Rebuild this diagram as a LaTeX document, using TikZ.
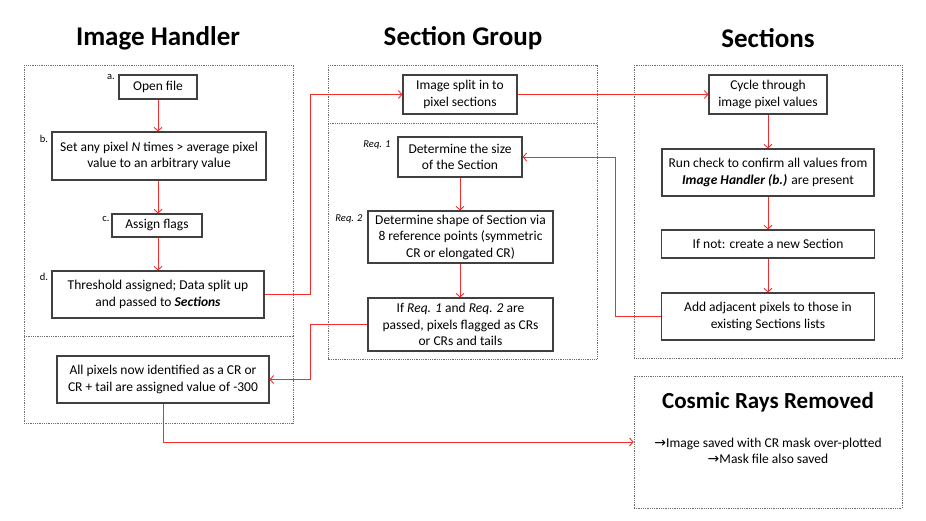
\documentclass[tikz,border=0pt]{standalone}
\usepackage{fontspec}
\setmainfont{Carlito}
\newfontfamily\dejavu{DejaVu Sans}
\usetikzlibrary{arrows.meta}
\definecolor{cline}{RGB}{245,45,45}
\definecolor{cbox}{RGB}{64,64,64}
\definecolor{cdot}{RGB}{110,110,110}
\tikzset{
  pbox/.style={draw=cbox, line width=1.1pt, fill=white, align=center, inner sep=1pt,
    font=\fontsize{13.5}{16.5}\selectfont},
  grp/.style={draw=cdot, line width=0.8pt, densely dotted},
  ttl/.style={font=\fontsize{27}{30}\selectfont\bfseries},
  lab/.style={font=\fontsize{10.5}{12}\selectfont, anchor=base},
  conn/.style={draw=cline, line width=0.9pt},
  arr/.style={conn, -{Straight Barb[length=3.5pt,width=8pt]}},
}
\newcommand{\rarr}{{\dejavu\fontsize{14}{14}\selectfont →}}
\begin{document}
\begin{tikzpicture}[x=1pt,y=-1pt]
\useasboundingbox (0,0) rectangle (926,521);
% titles
\node[ttl] (t1) at (158,38) {Image Handler};
\node[ttl] (t2) at (463,38) {Section Group};
\node[ttl] (t3) at (768,38) {Sections};
% group frames
\draw[grp] (24,65) rectangle (293,423);
\draw[grp] (24,336) -- (293,336);
\draw[grp] (328,65) rectangle (597,359);
\draw[grp] (328,123) -- (597,123);
\draw[grp] (634,65) rectangle (902,358);
\node[grp, minimum width=268pt, minimum height=132pt] (cosmic) at (768,442) {};
% Image handler
\node[pbox, minimum width=78pt, minimum height=24pt] (open) at (158,87) {Open file};
\node[pbox, minimum width=214pt, minimum height=48pt] (bset) at (159,156) {Set any pixel \emph{N} times > average pixel\\value to an arbitrary value};
\node[pbox, minimum width=90pt, minimum height=23pt] (flags) at (157,225.5) {Assign flags};
\node[pbox, minimum width=212pt, minimum height=47pt] (thresh) at (158,294.5) {Threshold assigned; Data split up\\and passed to \textbf{\emph{Sections}}};
\node[pbox, minimum width=212pt, minimum height=47pt] (allpix) at (163,379.5) {All pixels now identified as a CR or\\CR + tail are assigned value of -300};
\node[lab] (la) at (111,80) {a.};
\node[lab] (lb) at (44,143) {b.};
\node[lab] (lc) at (106,222) {c.};
\node[lab] (ld) at (44,281) {d.};
% Section group
\node[pbox, minimum width=114pt, minimum height=39pt] (split) at (460,94.5) {Image split in to\\pixel sections};
\node[pbox, minimum width=124pt, minimum height=40pt] (req1) at (460,157) {Determine the size\\of the Section};
\node[pbox, minimum width=185pt, minimum height=52pt] (req2) at (460.5,237) {Determine shape of Section via\\8 reference points (symmetric\\CR or elongated CR)};
\node[pbox, minimum width=185pt, minimum height=53pt] (ifreq) at (460.5,324.5) {If \emph{Req. 1} and \emph{Req. 2} are\\passed, pixels flagged as CRs\\or CRs and tails};
\node[lab, font=\fontsize{10.5}{12}\selectfont\itshape] (lr1) at (377,148) {Req. 1};
\node[lab, font=\fontsize{10.5}{12}\selectfont\itshape] (lr2) at (349,222) {Req. 2};
% Sections
\node[pbox, minimum width=118pt, minimum height=39pt] (cycle) at (768,94.5) {Cycle through\\image pixel values};
\node[pbox, minimum width=212pt, minimum height=47pt] (check) at (768,172.5) {Run check to confirm all values from\\\textbf{\emph{Image Handler (b.)}} are present};
\node[pbox, minimum width=213pt, minimum height=28pt] (ifnot) at (768,244) {If not: create a new Section};
\node[pbox, minimum width=213pt, minimum height=47pt] (adj) at (768,316.5) {Add adjacent pixels to those in\\existing Sections lists};
% Cosmic
\node[font=\fontsize{23}{26}\selectfont\bfseries] (crt) at (768,402) {Cosmic Rays Removed};
\node[align=center, font=\fontsize{13.5}{16}\selectfont] (crx) at (768,451) {\rarr Image saved with CR mask over-plotted\\\rarr Mask file also saved};
% junctions
\coordinate (j1) at (310,0);
\coordinate (j2) at (615,0);
% connectors
\draw[arr] (open.south) -- (open.south |- bset.north);
\draw[arr] (open.south |- bset.south) -- (open.south |- flags.north);
\draw[arr] (open.south |- flags.south) -- (open.south |- thresh.north);
\draw[arr] (thresh.east) -- (thresh.east -| j1) |- (split.west);
\draw[arr] (split.east) -- (cycle.west);
\draw[arr] (cycle.south) -- (cycle.south |- check.north);
\draw[arr] (cycle.south |- check.south) -- (cycle.south |- ifnot.north);
\draw[arr] (cycle.south |- ifnot.south) -- (cycle.south |- adj.north);
\draw[arr] (adj.west) -- (adj.west -| j2) |- (req1.east);
\draw[arr] (req1.south) -- (req1.south |- req2.north);
\draw[arr] (req1.south |- req2.south) -- (req1.south |- ifreq.north);
\draw[arr] (ifreq.west) -- (ifreq.west -| j1) |- (allpix.east);
\draw[arr] (allpix.south) |- (cosmic.west);
\end{tikzpicture}
\end{document}
